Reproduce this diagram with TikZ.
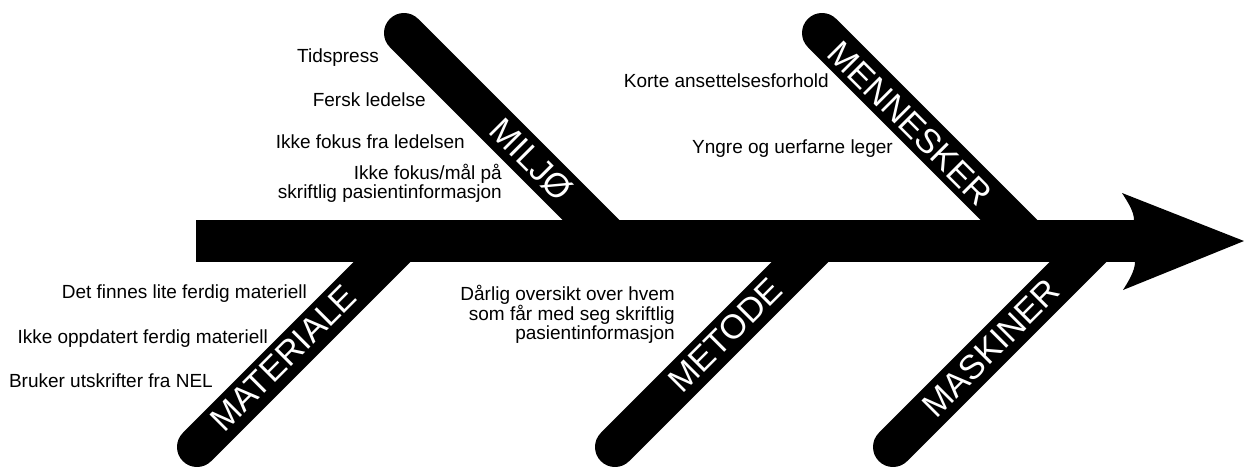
\documentclass[tikz,border=0pt]{standalone}
\usepackage{fontspec}
\setmainfont{Liberation Sans}
\begin{document}
\begin{tikzpicture}[x=1pt,y=-1pt,
  bone/.style={line width=40pt,line cap=round},
  cat/.style={text=white,font=\fontsize{34}{34}\selectfont,inner sep=0pt},
  cause/.style={font=\fontsize{19}{16.7}\selectfont,inner sep=0pt,align=right,anchor=base east}]
\useasboundingbox (0,0) rectangle (1244,466);
\fill[white] (0,0) rectangle (1244,466);
% bone end points
\coordinate (milA) at (404,33);   \coordinate (milB) at (607,236);
\coordinate (menA) at (822,33);   \coordinate (menB) at (1025,236);
\coordinate (matA) at (197,447);  \coordinate (matB) at (398,246);
\coordinate (metA) at (615,447);  \coordinate (metB) at (816,246);
\coordinate (masA) at (893,447);  \coordinate (masB) at (1094,246);
\draw[bone] (milA) -- (milB);
\draw[bone] (menA) -- (menB);
\draw[bone] (matA) -- (matB);
\draw[bone] (metA) -- (metB);
\draw[bone] (masA) -- (masB);
% spine and head
\fill (196,220) rectangle (1136,262);
\fill (1134,220) .. controls (1134,211) and (1127,201) .. (1122,193)
  -- (1244,241) -- (1123,290) .. controls (1128,282) and (1135,271) .. (1135,262) -- cycle;
% category labels
\node[cat,rotate=-45] (miljo) at (531,160) {MILJØ};
\node[cat,rotate=-45] (mennesker) at (910,123) {MENNESKER};
\node[cat,rotate=45] (materiale) at (283,358) {MATERIALE};
\node[cat,rotate=45] (metode) at (725,335) {METODE};
\node[cat,rotate=45] (maskiner) at (991,348) {MASKINER};
% causes
\node[cause] (c1) at (379,62) {Tidspress};
\node[cause] (c2) at (426,106) {Fersk ledelse};
\node[cause] (c3) at (465,148) {Ikke fokus fra ledelsen};
\node[cause] (c4) at (502,198) {Ikke fokus/mål på\\skriftlig pasientinformasjon};
\node[cause] (c5) at (829,87) {Korte ansettelsesforhold};
\node[cause] (c6) at (893,153) {Yngre og uerfarne leger};
\node[cause] (c7) at (307,298) {Det finnes lite ferdig materiell};
\node[cause] (c8) at (268,343) {Ikke oppdatert ferdig materiell};
\node[cause] (c9) at (213,387) {Bruker utskrifter fra NEL};
\node[cause,font=\fontsize{19}{14}\selectfont] (c10) at (675,339) {Dårlig oversikt over hvem\\som får med seg skriftlig\\pasientinformasjon};
\end{tikzpicture}
\end{document}
